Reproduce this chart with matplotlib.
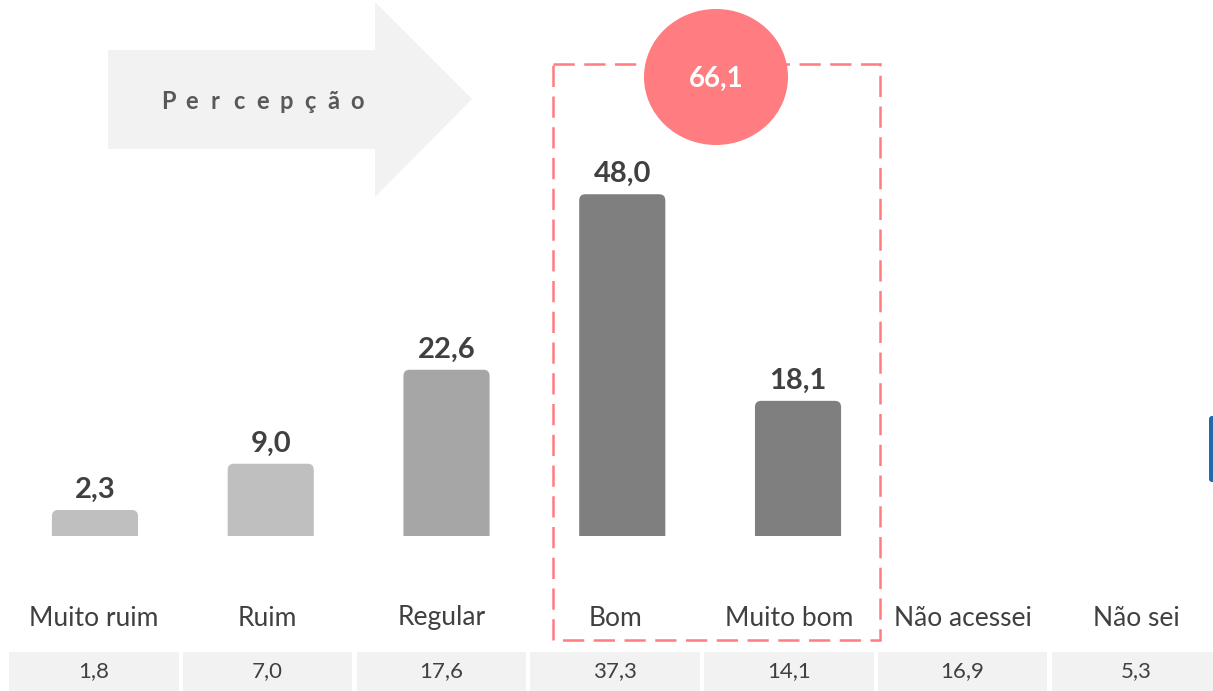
import matplotlib
matplotlib.use("Agg")
import matplotlib.pyplot as plt
import matplotlib.patches as patches

plt.rcParams['font.family'] = ['Lato', 'DejaVu Sans']

# data
categories = ['Muito ruim', 'Ruim', 'Regular', 'Bom', 'Muito bom', 'Não acessei', 'Não sei']
bar_values = [2.3, 9.0, 22.6, 48.0, 18.1]          # only the rated answers get a bar
bar_colors = ['#BFBFBF', '#BFBFBF', '#A6A6A6', '#7F7F7F', '#7F7F7F']
table_values = [1.8, 7.0, 17.6, 37.3, 14.1, 16.9, 5.3]
positive_idx = [3, 4]                                # Bom + Muito bom


def fmt(v):
    return f"{v:.1f}".replace('.', ',')


W, H = 1213, 691
fig = plt.figure(figsize=(W / 100, H / 100), dpi=100)

# overlay in pixel coordinates for the decorations
deco = fig.add_axes([0, 0, 1, 1])
deco.set_xlim(0, W)
deco.set_ylim(H, 0)
deco.axis('off')

# big light arrow "Percepção"
arrow = patches.Polygon(
    [(108, 50), (375, 50), (375, 2), (472, 99), (375, 197), (375, 149), (108, 149)],
    closed=True, facecolor='#F2F2F2', edgecolor='none', zorder=1)
deco.add_patch(arrow)
# letter-spaced word, one glyph at a time
for k, ch in enumerate('Percepção'):
    deco.text(168 + 23.6 * k, 101, ch, ha='center', va='center',
              fontsize=17, fontweight='bold', color='#595959', zorder=2)

# bars axes
px_per_unit = 6.91
ax = fig.add_axes([7.1 / W, 155 / H, 878.8 / W, 536 / H])
ax.set_xlim(-0.5, 4.5)
ax.set_ylim(-1.46, -1.46 + 536 / px_per_unit)
ax.axis('off')

bw = 0.49
for i, (v, c) in enumerate(zip(bar_values, bar_colors)):
    box = patches.FancyBboxPatch(
        (i - bw / 2, -4), bw, v + 4,
        boxstyle='round,pad=0,rounding_size=0.035',
        mutation_aspect=25.5,
        facecolor=c, edgecolor='none', zorder=3)
    ax.add_patch(box)
    ax.annotate(fmt(v), (i, v), xytext=(0, 5), textcoords='offset points',
                ha='center', va='bottom', fontsize=21, fontweight='bold',
                color='#404040', zorder=4)

# labels + table axes
lab = fig.add_axes([7.15 / W, 0, 1216 / W, 111 / H])
lab.set_xlim(-0.5, 6.5)
lab.set_ylim(0, 111)
lab.axis('off')

gap = 0.012
for i, (name, tv) in enumerate(zip(categories, table_values)):
    lab.text(i, 73, name, ha='center', va='center', fontsize=19, color='#404040')
    cell = patches.Rectangle((i - 0.5 + gap, -2), 1 - 2 * gap, 41,
                             facecolor='#F2F2F2', edgecolor='none')
    lab.add_patch(cell)
    lab.text(i, 20, fmt(tv), ha='center', va='center', fontsize=16, color='#404040')

# dashed highlight around the positive answers
hl = patches.Rectangle((553, 64), 327, 576, facecolor='none', edgecolor='#FF7C80',
                       linewidth=1.8, linestyle=(0, (8.5, 3.8)), zorder=5)
deco.add_patch(hl)

# circle with the positive total
total = sum(bar_values[k] for k in positive_idx)
circ = patches.Ellipse((716, 77), 144, 136, facecolor='#FF7C80', edgecolor='none', zorder=6)
deco.add_patch(circ)
deco.text(716, 79, fmt(total), ha='center', va='center', fontsize=20,
          fontweight='bold', color='white', zorder=7)

# small blue tab at right border
tab = patches.FancyBboxPatch((1209, 416), 10, 66, boxstyle='round,pad=0,rounding_size=3',
                             facecolor='#1F6BB0', edgecolor='none', zorder=6)
deco.add_patch(tab)

fig.savefig('out.png', dpi=100)
